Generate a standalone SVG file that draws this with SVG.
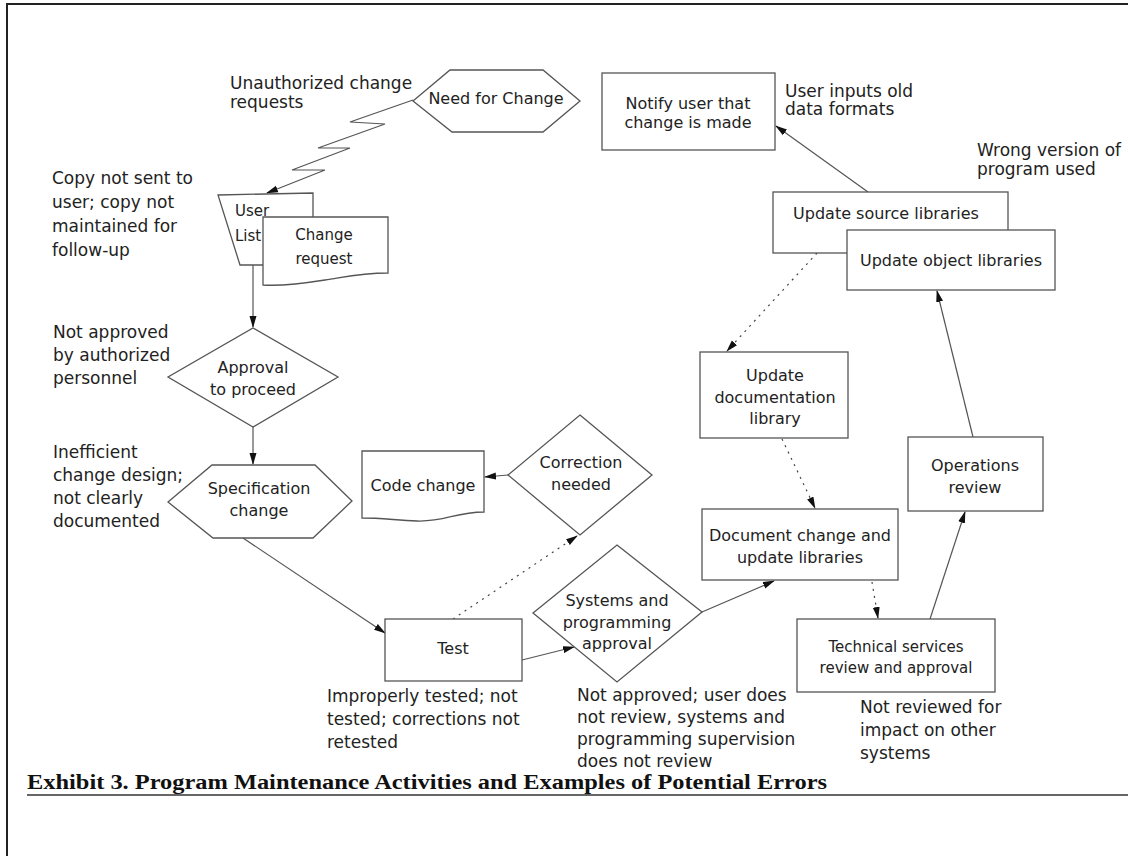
<svg xmlns="http://www.w3.org/2000/svg" width="1128" height="856" viewBox="0 0 1128 856">
<defs>
<marker id="ah" viewBox="0 0 12 8" refX="11" refY="4" markerWidth="12" markerHeight="8" markerUnits="userSpaceOnUse" orient="auto">
<path d="M0,0.5 L12,4 L0,7.5 Z" fill="#111"/>
</marker>
<style>
.n{fill:#fff;stroke:#555;stroke-width:1.3}
.t{font-family:"DejaVu Sans","Liberation Sans",sans-serif;font-size:16px;fill:#222;text-anchor:middle}
.s{font-size:15px}
.l{text-anchor:start}
.a{font-family:"DejaVu Sans","Liberation Sans",sans-serif;font-size:17px;fill:#222}
.c{fill:none;stroke:#555;stroke-width:1.2;marker-end:url(#ah)}
.d{stroke-dasharray:2 5;stroke:#444}
.cap{font-family:"Liberation Serif",serif;font-weight:bold;font-size:20px;fill:#111}
</style>
</defs>
<rect width="1128" height="856" fill="#fff"/>
<path d="M7,856 V4 H1128" fill="none" stroke="#222" stroke-width="2"/>

<g id="connectors">
<polyline class="c" points="413,100 350,122 385,124 318,148 350,148 292,170 325,170 267,193"/>
<line class="c" x1="253" y1="265" x2="253" y2="327"/>
<line class="c" x1="253" y1="427" x2="253" y2="464"/>
<line class="c" x1="243" y1="538" x2="385" y2="633"/>
<line class="c" x1="522" y1="660" x2="574" y2="647"/>
<line class="c d" x1="453" y1="619" x2="577" y2="536"/>
<line class="c" x1="508" y1="475" x2="485" y2="477"/>
<line class="c" x1="702" y1="612" x2="774" y2="581"/>
<line class="c d" x1="872" y1="582" x2="878" y2="618"/>
<line class="c" x1="930" y1="619" x2="965" y2="512"/>
<line class="c" x1="973" y1="437" x2="937" y2="291"/>
<line class="c" x1="868" y1="192" x2="776" y2="126"/>
<line class="c d" x1="817" y1="253" x2="727" y2="351"/>
<line class="c d" x1="782" y1="439" x2="815" y2="508"/>
</g>

<g id="need-for-change">
<polygon class="n" points="413,101 450,70 543,70 580,101 543,132 452,132"/>
<text class="t" x="496" y="104">Need for Change</text>
</g>

<g id="user-list">
<polygon class="n" points="218,195 313,193 313,265 240,265"/>
<text class="t s l" x="235" y="216">User</text>
<text class="t s l" x="235" y="241">List</text>
</g>

<g id="change-request">
<path class="n" d="M263,217 H388 V273 C360,273 345,277 325,280 C300,284 280,286 263,285 Z"/>
<text class="t s" x="324" y="240">Change</text>
<text class="t s" x="324" y="264">request</text>
</g>

<g id="notify-user">
<rect class="n" x="602" y="73" width="173" height="77"/>
<text class="t" x="688" y="109">Notify user that</text>
<text class="t" x="688" y="128">change is made</text>
</g>

<g id="update-source">
<rect class="n" x="773" y="192" width="235" height="61"/>
<text class="t" x="886" y="219">Update source libraries</text>
</g>

<g id="update-object">
<rect class="n" x="847" y="230" width="208" height="60"/>
<text class="t" x="951" y="266">Update object libraries</text>
</g>

<g id="approval">
<polygon class="n" points="253,328 338,377 253,427 168,377"/>
<text class="t" x="253" y="373">Approval</text>
<text class="t" x="253" y="395">to proceed</text>
</g>

<g id="specification">
<polygon class="n" points="168,502 212,465 315,465 352,501 313,538 213,538"/>
<text class="t" x="259" y="494">Specification</text>
<text class="t" x="259" y="516">change</text>
</g>

<g id="code-change">
<path class="n" d="M362,451 H484 V512 C455,512 445,522 417,521 C395,520 380,518 362,518 Z"/>
<text class="t" x="423" y="491">Code change</text>
</g>

<g id="correction-needed">
<polygon class="n" points="580,415 652,475 580,535 508,475"/>
<text class="t" x="581" y="468">Correction</text>
<text class="t" x="581" y="490">needed</text>
</g>

<g id="test">
<rect class="n" x="385" y="619" width="137" height="62"/>
<text class="t" x="453" y="654">Test</text>
</g>

<g id="systems-approval">
<polygon class="n" points="617,545 702,612 617,682 533,613"/>
<text class="t" x="617" y="606">Systems and</text>
<text class="t" x="617" y="628">programming</text>
<text class="t" x="617" y="649">approval</text>
</g>

<g id="update-doc-library">
<rect class="n" x="700" y="352" width="148" height="86"/>
<text class="t" x="775" y="381">Update</text>
<text class="t" x="775" y="403">documentation</text>
<text class="t" x="775" y="424">library</text>
</g>

<g id="document-change">
<rect class="n" x="702" y="509" width="196" height="71"/>
<text class="t" x="800" y="541">Document change and</text>
<text class="t" x="800" y="563">update libraries</text>
</g>

<g id="operations-review">
<rect class="n" x="908" y="437" width="135" height="74"/>
<text class="t" x="975" y="471">Operations</text>
<text class="t" x="975" y="493">review</text>
</g>

<g id="technical-services">
<rect class="n" x="797" y="619" width="198" height="73"/>
<text class="t s" x="896" y="652">Technical services</text>
<text class="t s" x="896" y="673">review and approval</text>
</g>

<g id="annotations">
<text class="a" x="230" y="89">Unauthorized change</text>
<text class="a" x="230" y="108">requests</text>
<text class="a" x="52" y="184">Copy not sent to</text>
<text class="a" x="52" y="208">user; copy not</text>
<text class="a" x="52" y="232">maintained for</text>
<text class="a" x="52" y="256">follow-up</text>
<text class="a" x="785" y="97">User inputs old</text>
<text class="a" x="785" y="115">data formats</text>
<text class="a" x="977" y="156">Wrong version of</text>
<text class="a" x="977" y="175">program used</text>
<text class="a" x="53" y="338">Not approved</text>
<text class="a" x="53" y="361">by authorized</text>
<text class="a" x="53" y="384">personnel</text>
<text class="a" x="53" y="458">Inefficient</text>
<text class="a" x="53" y="481">change design;</text>
<text class="a" x="53" y="504">not clearly</text>
<text class="a" x="53" y="527">documented</text>
<text class="a" x="327" y="702">Improperly tested; not</text>
<text class="a" x="327" y="725">tested; corrections not</text>
<text class="a" x="327" y="748">retested</text>
<text class="a" x="577" y="701">Not approved; user does</text>
<text class="a" x="577" y="723">not review, systems and</text>
<text class="a" x="577" y="745">programming supervision</text>
<text class="a" x="577" y="767">does not review</text>
<text class="a" x="860" y="713">Not reviewed for</text>
<text class="a" x="860" y="736">impact on other</text>
<text class="a" x="860" y="759">systems</text>
</g>

<g id="caption">
<text class="cap" x="27" y="789" textLength="800" lengthAdjust="spacingAndGlyphs">Exhibit 3. Program Maintenance Activities and Examples of Potential Errors</text>
<line x1="27" y1="795" x2="1128" y2="795" stroke="#333" stroke-width="1.3"/>
</g>
</svg>
